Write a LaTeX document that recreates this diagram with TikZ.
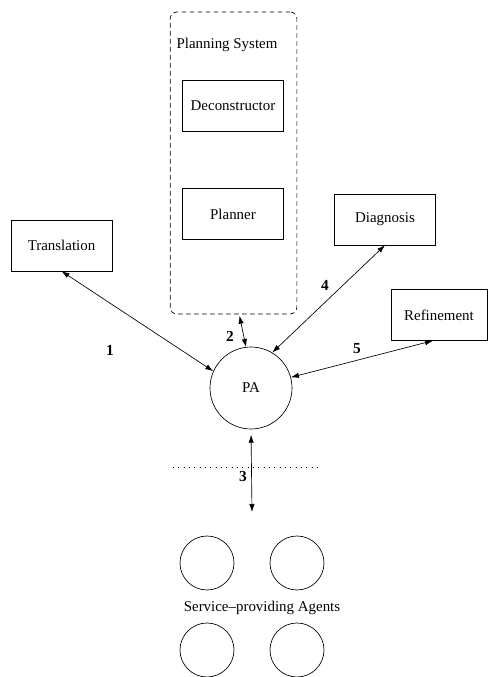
\documentclass[tikz,border=0pt]{standalone}
\usepackage{fontspec}
\setmainfont{Liberation Serif}
\usetikzlibrary{arrows.meta,shapes}
\tikzstyle{module}=[draw,rectangle,minimum width=76pt,minimum height=38pt,inner sep=0pt]
\tikzstyle{agent}=[draw,circle,minimum size=40.5pt,inner sep=0pt]
\tikzstyle{link}=[draw,{Latex[length=6pt,width=4pt]}-{Latex[length=6pt,width=4pt]}]
\tikzstyle{num}=[font=\fontsize{11.5}{13}\selectfont\bfseries]

\begin{document}
\begin{tikzpicture}[x=0.75pt,y=-0.75pt,line width=0.5pt,font=\fontsize{11.2}{13}\selectfont]
    \useasboundingbox (0,0) rectangle (488,677);
    % The planning system and what it holds
    \node[draw,dash pattern=on 3.5pt off 2.5pt,rounded corners=5pt,minimum width=95pt,minimum height=226.5pt] (ps) at (233.5,163) {};
    \node (pslabel) at (227,45) {Planning System};
    \node[module] (decon) at (233,106) {Deconstructor};
    \node[module] (planner) at (233,214) {Planner};

    % The modules round the PA
    \foreach \pos/\name/\txt in {{(61.5,245.5)/trans/Translation}, {(385,219.5)/diag/Diagnosis}}
        \node[module] (\name) at \pos {\txt};
    \node[module,minimum width=72pt] (refine) at (439,315) {Refinement};
    \node[draw,circle,minimum size=61.5pt,inner sep=0pt] (pa) at (251,388) {PA};

    % Links to the PA
    \path[link] (trans.south) -- (pa.156);
    \path[link] ([xshift=4.5pt,yshift=-1pt]ps.south) -- (pa.97);
    \path[link] (diag.south) -- (pa.59);
    \path[link] ([xshift=-4.5pt]refine.south) -- (pa.15);
    \coordinate (down) at (252,512);
    \path[link,shorten <=4pt] (pa.south) -- (down);
    \draw[dash pattern=on 0.6pt off 3.4pt] (173,467) -- (322,467);

    % Link numbers
    \foreach \pos/\n in {{(110,350)/1}, {(230,336)/2}, {(243,476)/3}, {(325,285)/4}, {(357,349)/5}}
        \node[num] (num\n) at \pos {\n};

    % The agents
    \foreach \pos/\name in {{(207,563)/a1}, {(297,563)/a2}, {(207,650)/a3}, {(297,650)/a4}}
        \node[agent] (\name) at \pos {};
    \node (agents) at (262,608) {Service--providing Agents};
\end{tikzpicture}
\end{document}
